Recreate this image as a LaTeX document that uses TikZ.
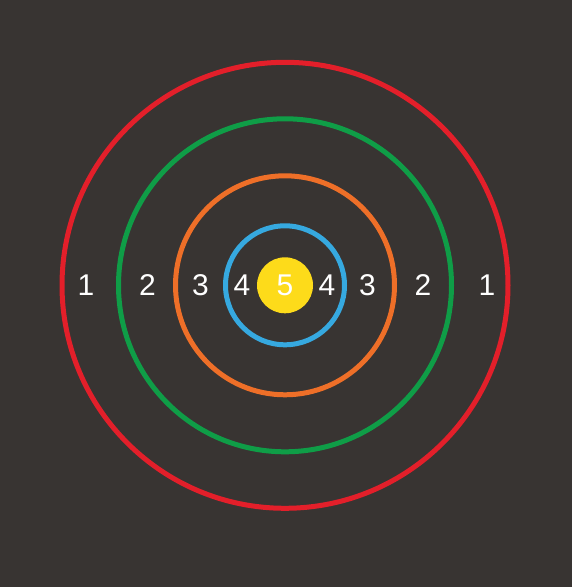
\documentclass[tikz,border=0pt]{standalone}
\usepackage{fontspec}
\setmainfont{Liberation Sans}
\definecolor{bg}{HTML}{383432}
\definecolor{ringred}{HTML}{E31F2A}
\definecolor{ringgreen}{HTML}{0F9D47}
\definecolor{ringorange}{HTML}{EE6F28}
\definecolor{ringblue}{HTML}{36A9E0}
\definecolor{bullyellow}{HTML}{FDDB1A}
\begin{document}
\begin{tikzpicture}[x=1pt,y=1pt,
  ring/.style={line width=5pt},
  num/.style={text=white,font=\fontsize{30}{30}\selectfont,inner sep=0pt,anchor=center}]
\fill[bg] (0,0) rectangle (572,587);
\useasboundingbox (0,0) rectangle (572,587);
\coordinate (c) at (285,301.7);
\draw[ring,ringred] (c) circle (223);
\draw[ring,ringgreen] (c) circle (166.5);
\draw[ring,ringorange] (c) circle (109.5);
\draw[ring,ringblue] (c) circle (59.5);
\fill[bullyellow] (c) circle (28);
\node[num] (n5) at (285,301.5) {5};
\node[num] (l4) at (242,301.5) {4};
\node[num] (r4) at (327,301.5) {4};
\node[num] (l3) at (200.5,301.5) {3};
\node[num] (r3) at (367.5,301.5) {3};
\node[num] (l2) at (147.5,301.5) {2};
\node[num] (r2) at (423,301.5) {2};
\node[num] (l1) at (86,301.5) {1};
\node[num] (r1) at (487,301.5) {1};
\end{tikzpicture}
\end{document}
